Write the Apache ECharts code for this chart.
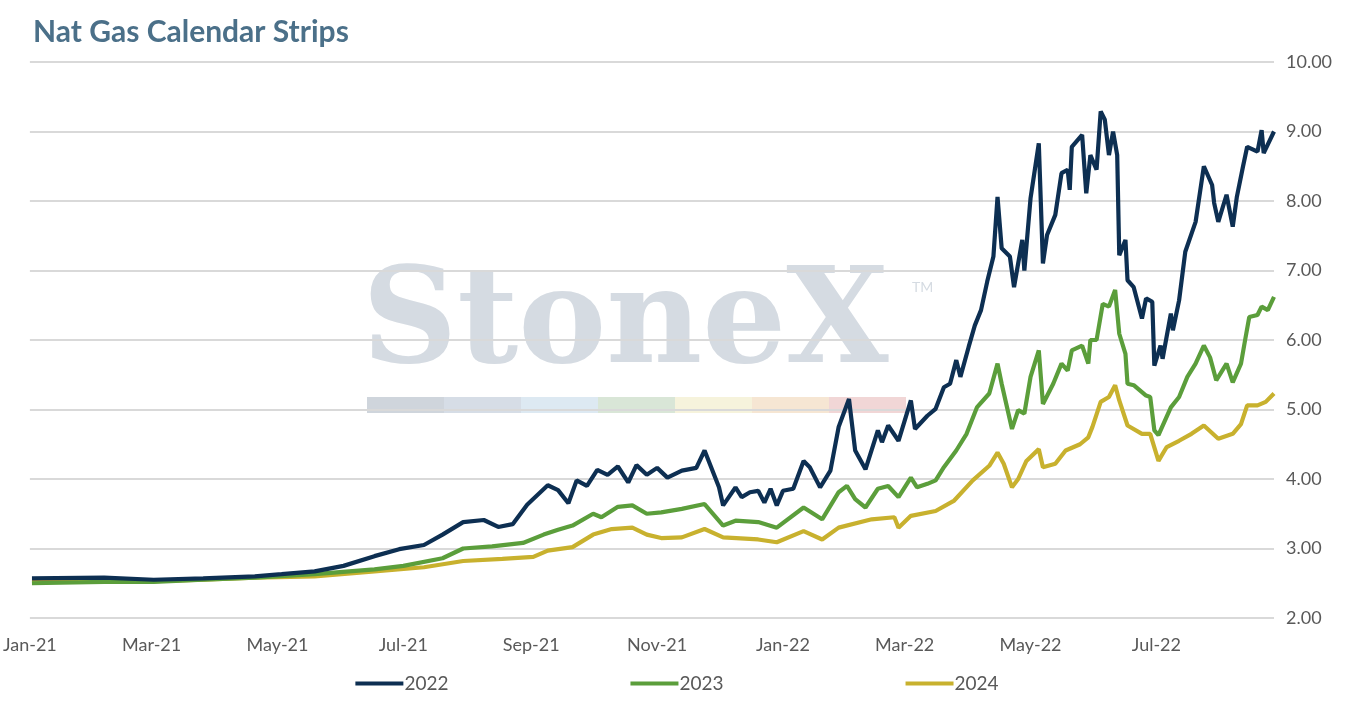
<!DOCTYPE html>
<html><head><meta charset="utf-8">
<script src="https://cdn.jsdelivr.net/npm/echarts@6/dist/echarts.min.js"></script>
<style>html,body{margin:0;padding:0;background:#fff}#c{width:1354px;height:708px}</style>
</head><body><div id="c"></div>
<script>
// x = days since 2021-01-01
const tickDays = [0,59,120,181,243,304,365,424,485,546];
const tickLabels = ['Jan-21','Mar-21','May-21','Jul-21','Sep-21','Nov-21','Jan-22','Mar-22','May-22','Jul-22'];
const s2022 = [[1,2.57],[36,2.58],[60,2.55],[84,2.57],[109,2.6],[122,2.63],[138,2.67],[152,2.75],[167,2.89],[179,2.99],[191,3.05],[200,3.2],[210,3.38],[220,3.41],[227,3.31],[234,3.35],[241,3.63],[251,3.91],[256,3.84],[261,3.65],[265,3.98],[270,3.9],[275,4.13],[280,4.06],[285,4.18],[290,3.95],[294,4.2],[299,4.06],[304,4.16],[309,4.02],[316,4.12],[323,4.16],[327,4.41],[334,3.88],[336,3.62],[342,3.88],[345,3.74],[349,3.81],[353,3.83],[356,3.66],[359,3.86],[362,3.62],[365,3.83],[370,3.86],[375,4.26],[378,4.17],[383,3.88],[388,4.12],[392,4.75],[397,5.15],[400,4.41],[405,4.14],[411,4.7],[413,4.53],[416,4.77],[421,4.55],[424,4.84],[427,5.13],[429,4.72],[435,4.91],[439,5.01],[443,5.32],[446,5.37],[449,5.71],[451,5.47],[455,5.9],[458,6.21],[461,6.43],[464,6.84],[467,7.2],[469,8.06],[471,7.32],[475,7.2],[477,6.76],[481,7.44],[482,7.0],[485,8.04],[489,8.83],[491,7.1],[493,7.51],[497,7.8],[500,8.4],[503,8.45],[504,8.16],[505,8.78],[510,8.95],[512,8.11],[514,8.66],[517,8.45],[519,9.29],[521,9.17],[523,8.66],[525,9.0],[527,8.66],[528,7.22],[531,7.44],[532,6.86],[535,6.76],[539,6.31],[541,6.6],[544,6.55],[545,5.63],[548,5.92],[549,5.73],[553,6.38],[554,6.14],[557,6.57],[560,7.27],[565,7.7],[569,8.5],[573,8.23],[574,7.97],[576,7.7],[580,8.09],[583,7.63],[585,8.06],[588,8.5],[590,8.78],[595,8.71],[597,9.02],[598,8.69],[603,9.0]];
const s2023 = [[1,2.5],[36,2.52],[60,2.52],[84,2.55],[109,2.58],[138,2.63],[167,2.7],[181,2.75],[200,2.86],[210,3.0],[224,3.03],[239,3.08],[249,3.2],[256,3.27],[263,3.33],[273,3.5],[277,3.45],[285,3.6],[292,3.62],[299,3.5],[306,3.52],[316,3.57],[327,3.64],[336,3.33],[342,3.4],[353,3.38],[362,3.3],[375,3.59],[384,3.42],[392,3.81],[396,3.9],[400,3.71],[405,3.59],[411,3.86],[416,3.9],[421,3.74],[427,4.02],[430,3.88],[435,3.93],[439,3.98],[443,4.17],[449,4.41],[454,4.65],[459,5.03],[465,5.23],[469,5.66],[471,5.37],[476,4.72],[479,4.99],[482,4.94],[485,5.47],[489,5.85],[491,5.08],[496,5.37],[500,5.66],[503,5.56],[505,5.85],[510,5.92],[513,5.66],[514,6.0],[517,6.0],[520,6.52],[523,6.48],[526,6.72],[528,6.09],[531,5.8],[532,5.37],[535,5.35],[541,5.2],[543,5.18],[545,4.7],[547,4.63],[553,5.03],[557,5.18],[561,5.47],[565,5.66],[569,5.92],[572,5.75],[575,5.42],[580,5.66],[583,5.39],[587,5.66],[589,6.0],[591,6.33],[595,6.36],[597,6.48],[600,6.43],[603,6.62]];
const s2024 = [[1,2.52],[36,2.55],[60,2.53],[84,2.55],[109,2.58],[138,2.6],[167,2.67],[191,2.73],[210,2.82],[229,2.85],[244,2.88],[251,2.97],[263,3.02],[273,3.2],[282,3.28],[292,3.3],[299,3.2],[306,3.15],[316,3.16],[327,3.28],[336,3.16],[353,3.13],[362,3.09],[375,3.25],[384,3.13],[392,3.3],[408,3.42],[419,3.45],[421,3.3],[427,3.47],[439,3.54],[448,3.69],[457,3.98],[465,4.19],[469,4.38],[472,4.22],[476,3.88],[479,4.0],[483,4.26],[489,4.43],[491,4.17],[497,4.22],[502,4.41],[509,4.5],[513,4.6],[515,4.75],[519,5.11],[523,5.18],[526,5.35],[528,5.13],[532,4.77],[539,4.65],[543,4.65],[547,4.26],[551,4.46],[557,4.55],[563,4.65],[569,4.77],[576,4.58],[583,4.65],[587,4.79],[590,5.06],[595,5.06],[599,5.11],[603,5.23]];
const seriesNames = ['2022','2023','2024'];
const colors = ['#0d2f52','#5b9e3b','#c8b12e'];

const chart = echarts.init(document.getElementById('c'));
const bar = ['#cfd5dc','#d6dde6','#dde9f2','#d9e6d7','#f6f3dc','#f6e6d3','#f1d6d6'];
const graphic = [{type:'text',left:33,top:17,style:{text:'Nat Gas Calendar Strips',font:'bold 30px Lato',fill:'#4b7089'}},
 {type:'text',left:362,top:262,z:0,style:{text:'StoneX',font:'bold 132px "DejaVu Serif"',fill:'#d5dbe2'}},
 {type:'text',left:912,top:280,z:0,style:{text:'TM',font:'14px Lato',fill:'#d5dbe2'}}];
bar.forEach((c,i)=>graphic.push({type:'rect',z:0,shape:{x:367+i*77,y:397,width:77,height:16},style:{fill:c}}));

chart.setOption({
 animation:false,
 color:colors,
 graphic:graphic,
 grid:{left:25,right:80,top:62,bottom:90},
 legend:{bottom:10,left:'center',itemGap:182,itemWidth:48,itemHeight:4,icon:'rect',
   textStyle:{fontFamily:'Lato',fontSize:19,color:'#595959',padding:[0,0,0,-4]},data:seriesNames},
 xAxis:{type:'value',min:0,max:603,
   axisLine:{show:false},axisTick:{show:false},splitLine:{show:false},
   axisLabel:{customValues:tickDays,formatter:v=>{const i=tickDays.findIndex(d=>Math.abs(d-v)<0.5);return i<0?'':tickLabels[i];},
     hideOverlap:false,showMaxLabel:true,showMinLabel:true,fontFamily:'Lato',fontSize:18,color:'#595959',margin:18}},
 yAxis:{type:'value',position:'right',min:2,max:10,interval:1,
   axisLine:{show:false},axisTick:{show:false},
   splitLine:{lineStyle:{color:'#d9d9d9',width:2}},
   axisLabel:{formatter:v=>v.toFixed(2),fontFamily:'Lato',fontSize:18,color:'#595959',margin:12}},
 series:[s2022,s2023,s2024].map((d,i)=>({name:seriesNames[i],type:'line',data:d,showSymbol:false,z:5-i,
   lineStyle:{width:4.2,color:colors[i]}}))
});
</script></body></html>
